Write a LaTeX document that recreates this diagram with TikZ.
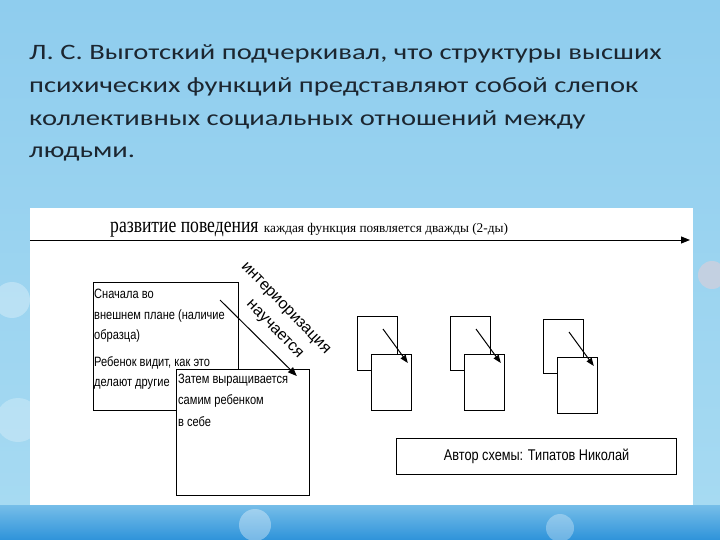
\documentclass[tikz,border=0pt]{standalone}
\usepackage{fontspec}
\setmainfont{Carlito}
\newfontfamily\titlefont[FakeStretch=1.3]{Carlito}
\newfontfamily\schemefont[FakeStretch=0.82]{Liberation Sans}
\newfontfamily\plainsans{Liberation Sans}
\newfontfamily\headfont[FakeStretch=0.8]{Liberation Serif}
\newfontfamily\notefont{Liberation Serif}
\usetikzlibrary{arrows.meta,positioning}

\definecolor{skytop}{HTML}{8FCDEE}
\definecolor{skymid}{HTML}{A6DAF2}
\definecolor{skylow}{HTML}{2E93DA}
\definecolor{inktitle}{HTML}{1C2630}

\tikzset{
  box/.style={draw, fill=white, line width=0.8pt, inner sep=0pt, anchor=north west},
  boxtext/.style={font=\schemefont\fontsize{13.5}{20.5}\selectfont, align=left, anchor=north west, inner sep=0pt},
  titleline/.style={font=\titlefont\fontsize{22}{22}\selectfont, text=inktitle, anchor=base west, inner sep=0pt},
  slanted/.style={font=\plainsans\fontsize{16}{16}\selectfont, rotate=-46, inner sep=0pt},
  pointer/.style={-{Triangle[length=9pt,width=7pt]}, line width=1pt},
  smallpointer/.style={-{Triangle[length=8pt,width=6pt]}, line width=1pt},
}

\begin{document}
\begin{tikzpicture}[x=1pt,y=-1pt]
  \useasboundingbox (0,0) rectangle (720,540);
  % background
  \shade[top color=skytop, bottom color=skymid] (0,0) rectangle (720,505);
  \shade[top color=skymid!60!skylow, bottom color=skylow] (0,505) rectangle (720,540);
  \fill[white, opacity=0.3] (12,300) circle (18);
  \fill[white, opacity=0.25] (18,420) circle (22);
  \fill[white, opacity=0.35] (255,525) circle (16);
  \fill[white, opacity=0.3] (560,528) circle (14);
  \fill[red!20, opacity=0.4] (712,275) circle (14);

  % title
  \node[titleline] (line1) at (29,60) {Л. С. Выготский подчеркивал, что структуры высших};
  \node[titleline] (line2) at (29,93) {психических функций представляют собой слепок};
  \node[titleline] (line3) at (29,126) {коллективных социальных отношений между};
  \node[titleline] (line4) at (29,158) {людьми.};

  % white sheet
  \fill[white] (30,208) rectangle (693,505);

  % time axis
  \coordinate (axisL) at (30,240);
  \coordinate (axisR) at (690,240);
  \draw[pointer] (axisL) -- (axisR);
  \node[font=\headfont\fontsize{22}{22}\selectfont, anchor=base west, inner sep=0pt] (devel) at (110,233) {развитие поведения};
  \node[font=\notefont\fontsize{13.3}{13.3}\selectfont, base right=5pt of devel, inner sep=0pt] (twice) {каждая функция появляется дважды (2-ды)};

  % outer plane
  \node[box, minimum width=145, minimum height=128] (outer) at (93,282) {};
  \node[boxtext] (outertext) at ([shift={(1,7)}]outer.north west)
    {Сначала во\\внешнем плане (наличие\\образца)\\[6pt]Ребенок видит, как это\\делают другие};

  % inner plane
  \node[box, minimum width=133, minimum height=126] (inner) at (176,369) {};
  \node[boxtext] (innertext) at ([shift={(2,5)}]inner.north west)
    {Затем выращивается\\самим ребенком\\[2pt]в себе};

  \coordinate (intoS) at (220,300);
  \draw[pointer] (intoS) -- ([shift={(-13,7)}]inner.north east);
  \node[slanted] (interior) at (285,309) {интериоризация};
  \node[slanted] (learns) at (274,330) {научается};

  % repeated pairs
  \foreach \px/\py/\k in {357/316/a, 450/316/b, 543/319/c}{
    \node[box, minimum width=40, minimum height=54] (back\k) at (\px,\py) {};
    \node[box, minimum width=40, minimum height=56] (front\k) at ([shift={(14,38)}]back\k.north west) {};
    \draw[smallpointer] ([shift={(26,13)}]back\k.north west) -- ([shift={(-4,9)}]front\k.north east);
  }

  % author
  \node[box, line width=1.2pt, minimum width=280, minimum height=36,
        font=\schemefont\fontsize{15.5}{15.5}\selectfont] (author) at (396,438) {Автор схемы: Типатов Николай};
\end{tikzpicture}
\end{document}
